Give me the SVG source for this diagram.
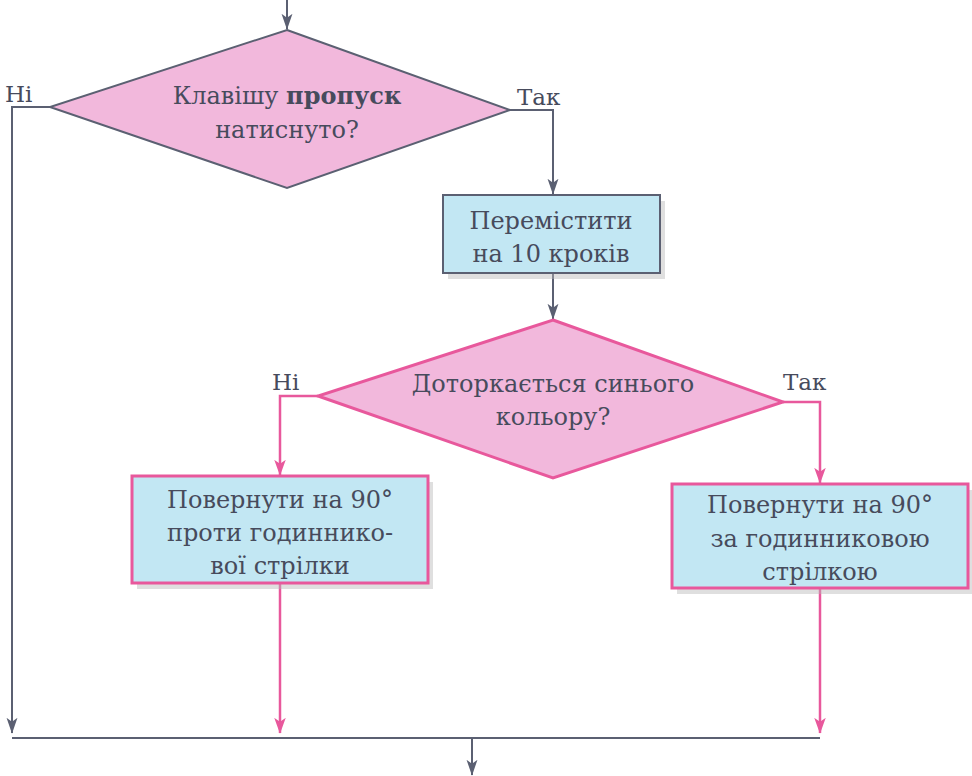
<svg xmlns="http://www.w3.org/2000/svg" width="972" height="776" viewBox="0 0 972 776">
<defs>
<style>
.t{font-family:"DejaVu Serif","Liberation Serif",serif;font-size:24px;fill:#474b5c;text-anchor:middle}
.lbl{font-family:"DejaVu Serif","Liberation Serif",serif;font-size:23px;fill:#474b5c}
.g{stroke:#5b6072;stroke-width:2;fill:none}
.p{stroke:#e8589c;stroke-width:2.5;fill:none}
.sh{fill:#b8b8b8;opacity:0.45}
</style>
<marker id="ag" viewBox="0 0 10 10" refX="9.5" refY="5" markerWidth="16" markerHeight="16" markerUnits="userSpaceOnUse" orient="auto"><path d="M0,1.6 L10,5 L0,8.4 L2.5,5 Z" fill="#5b6072"/></marker>
<marker id="ap" viewBox="0 0 10 10" refX="9.5" refY="5" markerWidth="16" markerHeight="16" markerUnits="userSpaceOnUse" orient="auto"><path d="M0,1.4 L10,5 L0,8.6 L2.5,5 Z" fill="#e8589c"/></marker>
</defs>
<rect width="972" height="776" fill="#ffffff"/>
<g id="connectors">
<path class="g" d="M287,0 V29" marker-end="url(#ag)"/>
<path class="g" d="M50,107 H12 V733" marker-end="url(#ag)"/>
<path class="g" d="M510,110 H553 V194" marker-end="url(#ag)"/>
<path class="g" d="M553,273 V319" marker-end="url(#ag)"/>
<path class="p" d="M318,396 H280 V475" marker-end="url(#ap)"/>
<path class="p" d="M783,402 H820 V483" marker-end="url(#ap)"/>
<path class="p" d="M280,583 V733" marker-end="url(#ap)"/>
<path class="p" d="M820,588 V733" marker-end="url(#ap)"/>
<path class="g" d="M12,738 H820"/>
<path class="g" d="M472,738 V775" marker-end="url(#ag)"/>
</g>
<g id="labels">
<text class="lbl" x="5" y="102">Ні</text>
<text class="lbl" x="517" y="105">Так</text>
<text class="lbl" x="272" y="390">Ні</text>
<text class="lbl" x="783" y="390">Так</text>
</g>
<g id="decision1">
<polygon points="287,30 510,110 287,188 50,107" fill="#f2b8dc" stroke="#5b6072" stroke-width="2"/>
<text class="t" x="287" y="104">Клавішу <tspan font-weight="bold">пропуск</tspan></text>
<text class="t" x="287" y="138">натиснуто?</text>
</g>
<g id="move">
<rect class="sh" x="448" y="201" width="217" height="78"/>
<rect x="443" y="195" width="217" height="78" fill="#c2e7f3" stroke="#5b6072" stroke-width="2"/>
<text class="t" x="551" y="229">Перемістити</text>
<text class="t" x="551" y="262">на 10 кроків</text>
</g>
<g id="decision2">
<polygon points="553,320 783,402 553,478 318,396" fill="#f2b8dc" stroke="#e8589c" stroke-width="3"/>
<text class="t" x="553" y="392">Доторкається синього</text>
<text class="t" x="553" y="425">кольору?</text>
</g>
<g id="turnLeft">
<rect class="sh" x="137" y="482" width="296" height="107"/>
<rect x="132" y="476" width="296" height="107" fill="#c2e7f3" stroke="#e8589c" stroke-width="3"/>
<text class="t" x="280" y="508">Повернути на 90°</text>
<text class="t" x="280" y="541">проти годиннико-</text>
<text class="t" x="280" y="574">вої стрілки</text>
</g>
<g id="turnRight">
<rect class="sh" x="677" y="490" width="296" height="104"/>
<rect x="672" y="484" width="296" height="104" fill="#c2e7f3" stroke="#e8589c" stroke-width="3"/>
<text class="t" x="820" y="513">Повернути на 90°</text>
<text class="t" x="820" y="547">за годинниковою</text>
<text class="t" x="820" y="580">стрілкою</text>
</g>
</svg>
